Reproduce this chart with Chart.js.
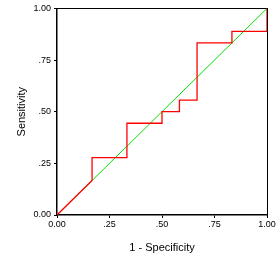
<!DOCTYPE html>
<html>
<head>
<meta charset="utf-8">
<script src="https://cdn.jsdelivr.net/npm/chart.js@4/dist/chart.umd.min.js"></script>
<style>
  html, body { margin: 0; padding: 0; background: #fff; }
  #wrap { width: 279px; height: 267px; }
</style>
</head>
<body>
<div id="wrap"><canvas id="roc" width="279" height="267"></canvas></div>
<script>
  // ROC curve (1 - specificity, sensitivity)
  var FPR = [0, 0.167, 0.167, 0.333, 0.333, 0.5, 0.5, 0.583, 0.583, 0.667, 0.667, 0.833, 0.833, 1, 1];
  var TPR = [0, 0.167, 0.278, 0.278, 0.444, 0.444, 0.5, 0.5, 0.556, 0.556, 0.833, 0.833, 0.889, 0.889, 1];
  var REF_X = [0, 1];
  var REF_Y = [0, 1];
  var TICKS = [0, 0.25, 0.5, 0.75, 1];
  var TICK_LABELS = ['0.00', '.25', '.50', '.75', '1.00'];

  var tickFont = { family: 'Liberation Sans, Arial, sans-serif', size: 9 };
  var titleFont = { family: 'Liberation Sans, Arial, sans-serif', size: 11 };

  function pts(xs, ys) {
    return xs.map(function (x, i) { return { x: x, y: ys[i] }; });
  }

  function fixedTicks(scale) {
    scale.ticks = TICKS.map(function (v) { return { value: v }; });
  }

  function tickLabel(v) {
    var i = TICKS.indexOf(v);
    return i === -1 ? '' : TICK_LABELS[i];
  }

  new Chart(document.getElementById('roc'), {
    type: 'scatter',
    data: {
      datasets: [
        {
          data: pts(REF_X, REF_Y), showLine: true, borderColor: '#00e000',
          borderWidth: 1, pointRadius: 0, tension: 0, order: 2,
        },
        {
          data: pts(FPR, TPR), showLine: true, borderColor: '#ff0000',
          borderWidth: 1.3, pointRadius: 0, tension: 0, order: 1,
        },
      ],
    },
    options: {
      responsive: false, animation: false, devicePixelRatio: 1,
      layout: { padding: { left: 0, right: 12, top: 4, bottom: 0 } },
      plugins: { legend: { display: false }, tooltip: { enabled: false } },
      scales: {
        x: {
          type: 'linear', min: 0, max: 1,
          afterBuildTicks: fixedTicks,
          afterFit: function (s) { s.height = 52; },
          grid: { drawOnChartArea: false, tickLength: 3, color: '#000' },
          border: { color: '#000', width: 1.5 },
          ticks: { color: '#000', font: tickFont, padding: 1, maxRotation: 0, callback: tickLabel },
          title: { display: true, text: '1 - Specificity', color: '#000', font: titleFont, padding: { top: 0, bottom: 12 } },
        },
        y: {
          type: 'linear', min: 0, max: 1,
          afterBuildTicks: fixedTicks,
          afterFit: function (s) { s.width = 57; },
          grid: { drawOnChartArea: false, tickLength: 3, color: '#000' },
          border: { color: '#000', width: 1.5 },
          ticks: { color: '#000', font: tickFont, padding: 3, callback: tickLabel },
          title: { display: true, text: 'Sensitivity', color: '#000', font: titleFont, padding: { top: 15, bottom: 0 } },
        },
        xTop: {
          type: 'linear', position: 'top', min: 0, max: 1,
          afterFit: function (s) { s.height = 0; },
          grid: { display: false }, ticks: { display: false },
          border: { color: '#000', width: 1 },
        },
        yRight: {
          type: 'linear', position: 'right', min: 0, max: 1,
          afterFit: function (s) { s.width = 0; },
          grid: { display: false }, ticks: { display: false },
          border: { color: '#000', width: 1 },
        },
      },
    },
  });
</script>
</body>
</html>
